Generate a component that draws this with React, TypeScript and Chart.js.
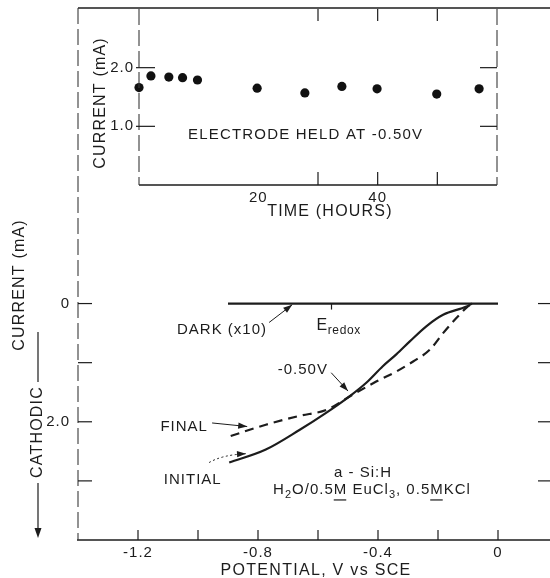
import React, { useEffect, useRef } from "react";
import { Chart, registerables } from "chart.js";
Chart.register(...registerables);

const FONT = '"Liberation Sans", Arial, Helvetica, sans-serif';
const INK = "#1c1c1c";

// ---- Inset: electrode held at -0.50 V ----
const insetHours = [0, 2, 5, 7.3, 9.8, 19.8, 27.8, 34, 39.9, 49.9, 57];
const insetCurrent = [1.66, 1.86, 1.84, 1.83, 1.79, 1.65, 1.57, 1.68, 1.64, 1.55, 1.64];
const insetXTicks = [20, 40];
const insetYTicks = [1, 2];
const insetXMarks = [30, 40, 50];
const insetYMarks = [1, 2];

// ---- Main: current vs potential ----
const darkV = [-0.9, 0];
const darkI = [0, 0];
const initialV = [-0.896, -0.774, -0.662, -0.573, -0.495, -0.439, -0.384, -0.339, -0.294, -0.238, -0.183, -0.105, -0.087];
const initialI = [2.69, 2.47, 2.14, 1.85, 1.57, 1.34, 1.06, 0.86, 0.64, 0.38, 0.19, 0.05, 0];
const finalV = [-0.891, -0.774, -0.662, -0.573, -0.484, -0.406, -0.339, -0.283, -0.227, -0.183, -0.138, -0.105, -0.087];
const finalI = [2.24, 2.05, 1.9, 1.8, 1.54, 1.32, 1.15, 0.98, 0.78, 0.5, 0.24, 0.07, 0];
const mainXTicks = [-1.2, -0.8, -0.4, 0];
const mainXMarks = [-1.2, -1.0, -0.8, -0.6, -0.4, -0.2, 0];
const mainYTicks = [0, 2];
const mainYMarks = [0, 1, 2, 3];

type Run = { t: string; sub?: boolean; ul?: boolean };

function font(size: number) {
  return `${size}px ${FONT}`;
}

function line(ctx: CanvasRenderingContext2D, x1: number, y1: number, x2: number, y2: number) {
  ctx.beginPath();
  ctx.moveTo(x1, y1);
  ctx.lineTo(x2, y2);
  ctx.stroke();
}

function arrowHead(ctx: CanvasRenderingContext2D, x: number, y: number, a: number, len = 9, half = 3.2) {
  ctx.beginPath();
  ctx.moveTo(x, y);
  ctx.lineTo(x - len * Math.cos(a) + half * Math.sin(a), y - len * Math.sin(a) - half * Math.cos(a));
  ctx.lineTo(x - len * Math.cos(a) - half * Math.sin(a), y - len * Math.sin(a) + half * Math.cos(a));
  ctx.closePath();
  ctx.fill();
}

function arrow(ctx: CanvasRenderingContext2D, x1: number, y1: number, x2: number, y2: number) {
  ctx.save();
  ctx.strokeStyle = INK;
  ctx.fillStyle = INK;
  ctx.lineWidth = 1;
  line(ctx, x1, y1, x2, y2);
  arrowHead(ctx, x2, y2, Math.atan2(y2 - y1, x2 - x1));
  ctx.restore();
}

function runs(ctx: CanvasRenderingContext2D, parts: Run[], x: number, y: number, size: number, align: "left" | "center" | "right", spacing = 1) {
  ctx.save();
  ctx.fillStyle = INK;
  ctx.textBaseline = "middle";
  ctx.textAlign = "left";
  (ctx as any).letterSpacing = `${spacing}px`;
  const sz = (r: Run) => (r.sub ? Math.round(size * 0.75) : size);
  const widths = parts.map((r) => {
    ctx.font = font(sz(r));
    return ctx.measureText(r.t).width;
  });
  const total = widths.reduce((s, w) => s + w, 0);
  let cx = align === "center" ? x - total / 2 : align === "right" ? x - total : x;
  parts.forEach((r, i) => {
    ctx.font = font(sz(r));
    ctx.fillText(r.t, cx, r.sub ? y + size * 0.3 : y);
    if (r.ul) ctx.fillRect(cx, y + size * 0.6, widths[i] - spacing, 1.2);
    cx += widths[i];
  });
  ctx.restore();
}

function vtext(ctx: CanvasRenderingContext2D, text: string, x: number, y: number, size: number, spacing = 1.2) {
  ctx.save();
  ctx.translate(x, y);
  ctx.rotate(-Math.PI / 2);
  ctx.font = font(size);
  (ctx as any).letterSpacing = `${spacing}px`;
  ctx.fillStyle = INK;
  ctx.textAlign = "center";
  ctx.textBaseline = "middle";
  ctx.fillText(text, 0, 0);
  ctx.restore();
}

const spacingPlugin = {
  id: "spacing",
  beforeDraw(chart: any) {
    chart.ctx.letterSpacing = "1px";
  },
};

const noPad = (s: any) => {
  s.paddingTop = 0;
  s.paddingBottom = 0;
  s.paddingLeft = 0;
  s.paddingRight = 0;
};

const mainDecor = {
  id: "mainDecor",
  afterDraw(chart: any) {
    const { ctx, chartArea: a, scales } = chart;
    const px = (v: number) => scales.x.getPixelForValue(v);
    const py = (v: number) => scales.y.getPixelForValue(v);
    ctx.save();
    (ctx as any).letterSpacing = "0px";
    ctx.strokeStyle = INK;
    ctx.fillStyle = INK;
    // frame
    ctx.lineWidth = 1.4;
    line(ctx, a.left, a.top, a.right, a.top);
    line(ctx, a.left - 1, a.bottom, a.right, a.bottom);
    ctx.lineWidth = 1.1;
    ctx.strokeStyle = "#3a3a3a";
    ctx.setLineDash([16, 5]);
    line(ctx, a.left, a.top, a.left, a.bottom);
    line(ctx, a.right, a.top, a.right, a.bottom);
    ctx.setLineDash([]);
    ctx.strokeStyle = INK;
    ctx.lineWidth = 1.2;
    // inward ticks
    mainYMarks.forEach((v) => {
      line(ctx, a.left, py(v), a.left + 14, py(v));
      line(ctx, a.right, py(v), a.right - 20, py(v));
    });
    mainXMarks.forEach((v) => {
      line(ctx, px(v), a.bottom, px(v), a.bottom - 10);
    });
    // E redox marker on dark line
    line(ctx, px(-0.555), py(0), px(-0.555), py(0) + 6);
    ctx.restore();

    // annotations
    runs(ctx, [{ t: "DARK (x10)" }], px(-1.07), py(0.44), 15, "left");
    arrow(ctx, px(-0.763), py(0.32), px(-0.686), py(0.02));
    runs(ctx, [{ t: "E" }, { t: "redox", sub: true }], px(-0.605), py(0.38), 16, "left", 0.6);
    runs(ctx, [{ t: "-0.50V" }], px(-0.567), py(1.12), 15, "right");
    arrow(ctx, px(-0.556), py(1.17), px(-0.5), py(1.48));
    runs(ctx, [{ t: "FINAL" }], px(-0.967), py(2.09), 15, "right");
    arrow(ctx, px(-0.953), py(2.02), px(-0.836), py(2.08));
    runs(ctx, [{ t: "INITIAL" }], px(-1.114), py(2.98), 15, "left");
    // dotted curved arrow for INITIAL
    ctx.save();
    ctx.strokeStyle = INK;
    ctx.fillStyle = INK;
    ctx.lineWidth = 1;
    ctx.setLineDash([2, 2.5]);
    const sx = px(-0.963), sy = py(2.69), ex = px(-0.84), ey = py(2.54), cx = px(-0.92), cy = py(2.56);
    ctx.beginPath();
    ctx.moveTo(sx, sy);
    ctx.quadraticCurveTo(cx, cy, ex, ey);
    ctx.stroke();
    ctx.setLineDash([]);
    arrowHead(ctx, ex, ey, Math.atan2(ey - cy, ex - cx));
    ctx.restore();
    runs(ctx, [{ t: "a - Si:H" }], px(-0.45), py(2.86), 15, "center");
    runs(
      ctx,
      [
        { t: "H" }, { t: "2", sub: true }, { t: "O/0.5" }, { t: "M", ul: true },
        { t: " EuCl" }, { t: "3", sub: true }, { t: ", 0.5" }, { t: "M", ul: true }, { t: "KCl" },
      ],
      px(-0.42), py(3.16), 15, "center"
    );

    // axis titles
    runs(ctx, [{ t: "POTENTIAL, V vs SCE" }], (px(-1.2) + px(0)) / 2 - 2, 571, 16, "center", 1.3);
    vtext(ctx, "CURRENT (mA)", 20, 285, 16);
    vtext(ctx, "CATHODIC", 38, 432, 16);
    ctx.save();
    ctx.strokeStyle = INK;
    ctx.fillStyle = INK;
    ctx.lineWidth = 1.2;
    line(ctx, 38, 332, 38, 382);
    line(ctx, 38, 483, 38, 528);
    arrowHead(ctx, 38, 538, Math.PI / 2, 10, 3.5);
    ctx.restore();
  },
};

const insetDecor = {
  id: "insetDecor",
  afterDraw(chart: any) {
    const { ctx, chartArea: a, scales } = chart;
    const px = (v: number) => scales.x.getPixelForValue(v);
    const py = (v: number) => scales.y.getPixelForValue(v);
    ctx.save();
    (ctx as any).letterSpacing = "0px";
    ctx.strokeStyle = INK;
    ctx.lineWidth = 1.4;
    line(ctx, a.left, a.bottom, a.right, a.bottom);
    ctx.lineWidth = 1.1;
    ctx.strokeStyle = "#3a3a3a";
    ctx.setLineDash([16, 5]);
    line(ctx, a.left, a.top, a.left, a.bottom);
    line(ctx, a.right, a.top, a.right, a.bottom);
    ctx.setLineDash([]);
    ctx.strokeStyle = INK;
    ctx.lineWidth = 1.2;
    insetYMarks.forEach((v) => {
      line(ctx, a.left - 3, py(v), a.left + 16, py(v));
      line(ctx, a.right, py(v), a.right - 17, py(v));
    });
    insetXMarks.forEach((v) => {
      line(ctx, px(v), a.bottom, px(v), a.bottom - 13);
      line(ctx, px(v), a.top, px(v), a.top + 12);
    });
    ctx.restore();
    runs(ctx, [{ t: "ELECTRODE HELD AT -0.50V" }], px(8.2), py(0.86), 15, "left", 1.2);
    runs(ctx, [{ t: "TIME (HOURS)" }], px(32), 212, 16, "center", 1.2);
    vtext(ctx, "CURRENT (mA)", 101, 103, 16);
  },
};

export default function App() {
  const mainRef = useRef<HTMLCanvasElement>(null);
  const insetRef = useRef<HTMLCanvasElement>(null);

  useEffect(() => {
    const tickFont = { family: FONT, size: 15 };
    const main = new Chart(mainRef.current as HTMLCanvasElement, {
      type: "scatter",
      data: {
        datasets: [
          {
            label: "Dark (x10)",
            data: darkV.map((v, i) => ({ x: v, y: darkI[i] })),
            showLine: true,
            borderColor: INK,
            borderWidth: 2.2,
            pointRadius: 0,
          },
          {
            label: "Initial",
            data: initialV.map((v, i) => ({ x: v, y: initialI[i] })),
            showLine: true,
            borderColor: INK,
            borderWidth: 2.2,
            pointRadius: 0,
            cubicInterpolationMode: "monotone",
          },
          {
            label: "Final",
            data: finalV.map((v, i) => ({ x: v, y: finalI[i] })),
            showLine: true,
            borderColor: INK,
            borderWidth: 2.2,
            borderDash: [9, 6],
            pointRadius: 0,
            cubicInterpolationMode: "monotone",
          },
        ],
      } as any,
      options: {
        responsive: false,
        animation: false,
        devicePixelRatio: 1,
        events: [],
        layout: { padding: { left: 0, right: 2, top: 8, bottom: 0 } },
        plugins: { legend: { display: false }, tooltip: { enabled: false } },
        scales: {
          x: {
            type: "linear",
            position: "bottom",
            min: -1.4,
            max: 0.2,
            grid: { display: false, drawTicks: false },
            border: { display: false },
            ticks: {
              font: tickFont,
              color: INK,
              padding: 4,
              maxRotation: 0,
              autoSkip: false,
              callback: (v: any) => (Math.abs(v) < 1e-9 ? "0" : Number(v).toFixed(1)),
            },
            afterBuildTicks: (s: any) => {
              s.ticks = mainXTicks.map((v) => ({ value: v }));
            },
            afterFit: (s: any) => {
              s.height = 38;
              noPad(s);
            },
          },
          y: {
            type: "linear",
            reverse: true,
            min: -5,
            max: 4,
            grid: { display: false, drawTicks: false },
            border: { display: false },
            ticks: {
              font: tickFont,
              color: INK,
              padding: 8,
              callback: (v: any) => (Math.abs(v) < 1e-9 ? "0" : Number(v).toFixed(1)),
            },
            afterBuildTicks: (s: any) => {
              s.ticks = mainYTicks.map((v) => ({ value: v }));
            },
            afterFit: (s: any) => {
              s.width = 78;
              noPad(s);
            },
          },
        },
      } as any,
      plugins: [spacingPlugin, mainDecor],
    });

    const inset = new Chart(insetRef.current as HTMLCanvasElement, {
      type: "scatter",
      data: {
        datasets: [
          {
            label: "Current at -0.50 V",
            data: insetHours.map((t, i) => ({ x: t, y: insetCurrent[i] })),
            backgroundColor: "#111",
            borderWidth: 0,
            pointRadius: 4.6,
            clip: false,
          },
        ],
      } as any,
      options: {
        responsive: false,
        animation: false,
        devicePixelRatio: 1,
        events: [],
        layout: { padding: { left: 0, right: 53, top: 9, bottom: 0 } },
        plugins: { legend: { display: false }, tooltip: { enabled: false } },
        scales: {
          x: {
            type: "linear",
            min: 0,
            max: 60,
            grid: { display: false, drawTicks: false },
            border: { display: false },
            ticks: { font: tickFont, color: INK, padding: 4, maxRotation: 0, autoSkip: false },
            afterBuildTicks: (s: any) => {
              s.ticks = insetXTicks.map((v) => ({ value: v }));
            },
            afterFit: (s: any) => {
              s.height = 45;
              noPad(s);
            },
          },
          y: {
            type: "linear",
            min: 0,
            max: 3,
            grid: { display: false, drawTicks: false },
            border: { display: false },
            ticks: {
              font: tickFont,
              color: INK,
              padding: 5,
              callback: (v: any) => Number(v).toFixed(1),
            },
            afterBuildTicks: (s: any) => {
              s.ticks = insetYTicks.map((v) => ({ value: v }));
            },
            afterFit: (s: any) => {
              s.width = 139;
              noPad(s);
            },
          },
        },
      } as any,
      plugins: [spacingPlugin, insetDecor],
    });

    return () => {
      main.destroy();
      inset.destroy();
    };
  }, []);

  return (
    <div
      style={{
        position: "fixed",
        left: 0,
        top: 0,
        width: 550,
        height: 578,
        overflow: "hidden",
        background: "#fff",
      }}
    >
      <canvas ref={mainRef} width={560} height={578} style={{ position: "absolute", left: 0, top: 0 }} />
      <canvas ref={insetRef} width={550} height={230} style={{ position: "absolute", left: 0, top: 0 }} />
    </div>
  );
}
